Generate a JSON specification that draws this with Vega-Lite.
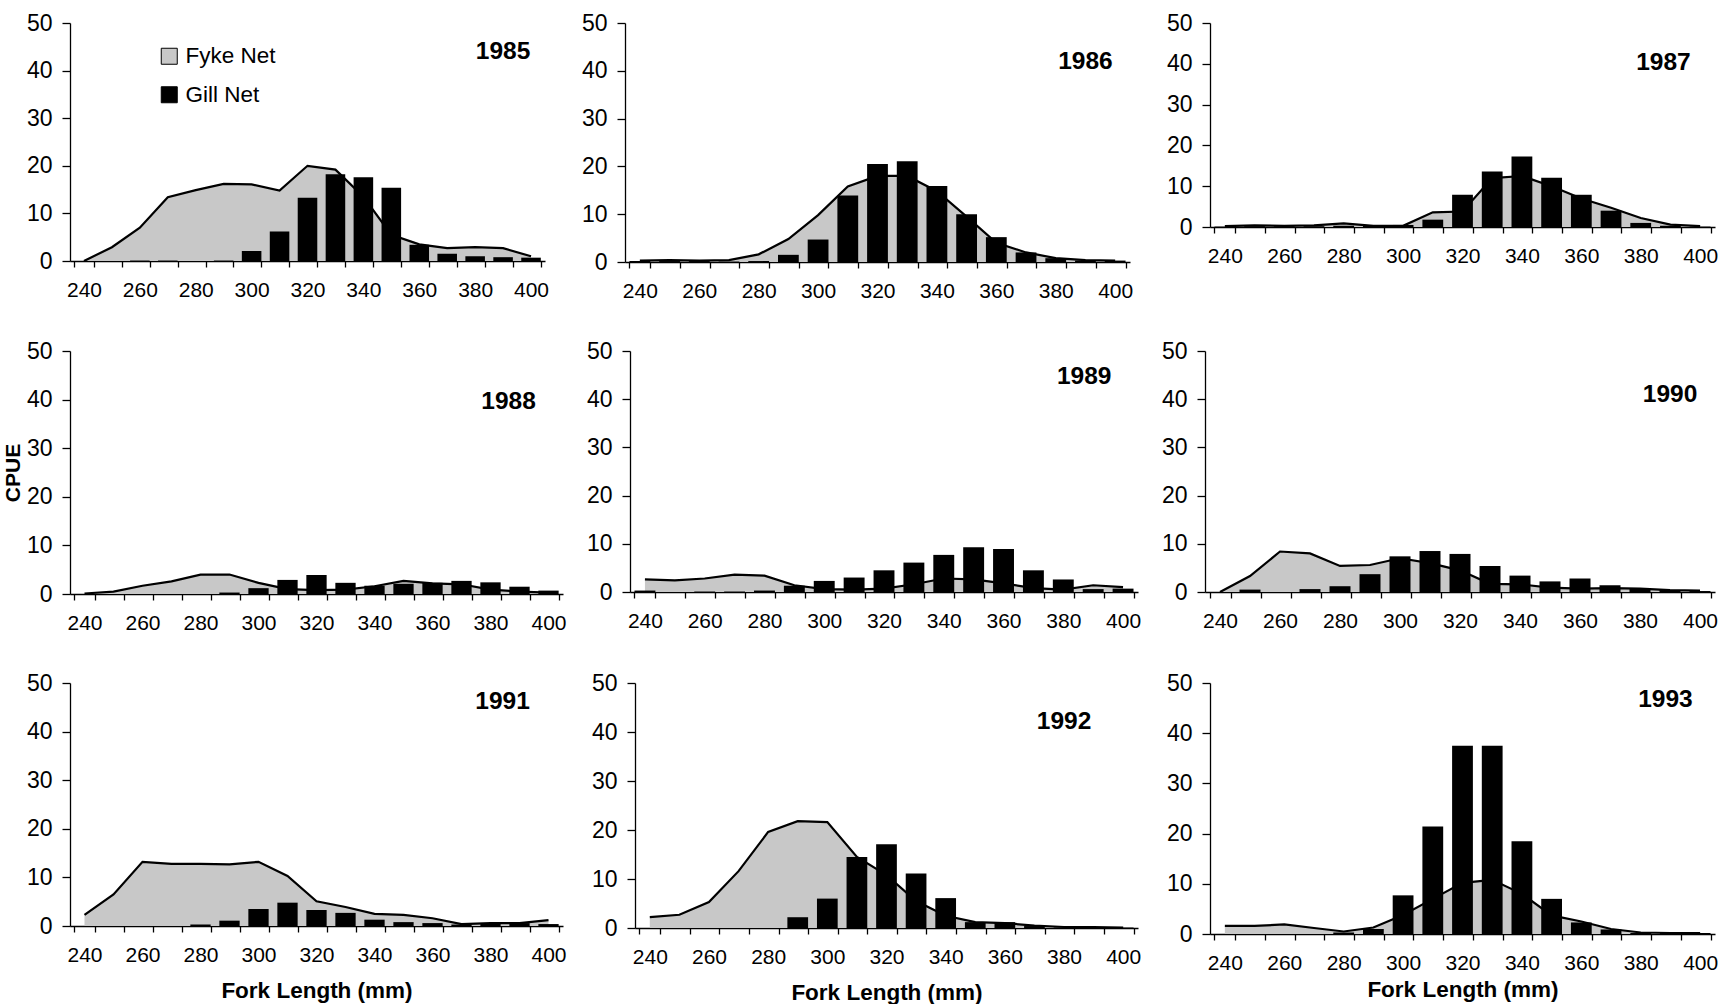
{
"$schema": "https://vega.github.io/schema/vega-lite/v6.json",
"padding": {"left": 2, "top": 12, "right": 2, "bottom": 0},
"background": "white",
"config": {
  "font": "Liberation Sans",
  "view": {"stroke": null},
  "axis": {"grid": false, "domainColor": "#000", "tickColor": "#000", "labelColor": "#000", "titleColor": "#000", "labelFont": "Liberation Sans", "titleFont": "Liberation Sans", "domainWidth": 1.3, "tickWidth": 1.3},
  "axisX": {"labelFontSize": 21, "tickSize": 6, "labelPadding": 12.5, "labelAngle": 0, "tickBand": "extent", "titleFontSize": 22.5, "titleFontWeight": "bold", "titlePadding": 14},
  "axisY": {"labelFontSize": 23, "tickSize": 8, "labelPadding": 10, "titleFontSize": 21, "titleFontWeight": "bold", "titlePadding": 3},
  "text": {"font": "Liberation Sans"}
},
"data": {"name": "cpue"},
"datasets": {"cpue": [
{"yr":1985,"L":240,"f":0,"g":0},{"yr":1985,"L":250,"f":2.9,"g":0},{"yr":1985,"L":260,"f":7.0,"g":0.1},{"yr":1985,"L":270,"f":13.4,"g":0.1},{"yr":1985,"L":280,"f":14.9,"g":0},{"yr":1985,"L":290,"f":16.2,"g":0.1},{"yr":1985,"L":300,"f":16.1,"g":2.1},{"yr":1985,"L":310,"f":14.8,"g":6.2},{"yr":1985,"L":320,"f":20.0,"g":13.3},{"yr":1985,"L":330,"f":19.2,"g":18.2},{"yr":1985,"L":340,"f":13.5,"g":17.6},{"yr":1985,"L":350,"f":5.5,"g":15.4},{"yr":1985,"L":360,"f":3.5,"g":3.4},{"yr":1985,"L":370,"f":2.7,"g":1.5},{"yr":1985,"L":380,"f":2.9,"g":1.0},{"yr":1985,"L":390,"f":2.7,"g":0.8},{"yr":1985,"L":400,"f":1.0,"g":0.7},
{"yr":1986,"L":240,"f":0.3,"g":0.2},{"yr":1986,"L":250,"f":0.4,"g":0.2},{"yr":1986,"L":260,"f":0.3,"g":0.2},{"yr":1986,"L":270,"f":0.4,"g":0.1},{"yr":1986,"L":280,"f":1.6,"g":0.2},{"yr":1986,"L":290,"f":4.8,"g":1.5},{"yr":1986,"L":300,"f":9.8,"g":4.7},{"yr":1986,"L":310,"f":15.8,"g":13.9},{"yr":1986,"L":320,"f":18.0,"g":20.5},{"yr":1986,"L":330,"f":18.0,"g":21.1},{"yr":1986,"L":340,"f":14.8,"g":15.9},{"yr":1986,"L":350,"f":9.5,"g":10.0},{"yr":1986,"L":360,"f":4.0,"g":5.2},{"yr":1986,"L":370,"f":2.0,"g":2.0},{"yr":1986,"L":380,"f":0.8,"g":0.8},{"yr":1986,"L":390,"f":0.4,"g":0.3},{"yr":1986,"L":400,"f":0.3,"g":0.3},
{"yr":1987,"L":240,"f":0.2,"g":0.1},{"yr":1987,"L":250,"f":0.4,"g":0.2},{"yr":1987,"L":260,"f":0.3,"g":0.2},{"yr":1987,"L":270,"f":0.4,"g":0.2},{"yr":1987,"L":280,"f":0.9,"g":0.3},{"yr":1987,"L":290,"f":0.3,"g":0.3},{"yr":1987,"L":300,"f":0.3,"g":0.5},{"yr":1987,"L":310,"f":3.6,"g":1.8},{"yr":1987,"L":320,"f":3.8,"g":7.9},{"yr":1987,"L":330,"f":12.0,"g":13.6},{"yr":1987,"L":340,"f":12.5,"g":17.3},{"yr":1987,"L":350,"f":10.0,"g":12.1},{"yr":1987,"L":360,"f":7.0,"g":7.9},{"yr":1987,"L":370,"f":4.7,"g":4.0},{"yr":1987,"L":380,"f":2.2,"g":1.0},{"yr":1987,"L":390,"f":0.6,"g":0.3},{"yr":1987,"L":400,"f":0.2,"g":0.1},
{"yr":1988,"L":240,"f":0.1,"g":0},{"yr":1988,"L":250,"f":0.5,"g":0},{"yr":1988,"L":260,"f":1.7,"g":0},{"yr":1988,"L":270,"f":2.6,"g":0},{"yr":1988,"L":280,"f":4.0,"g":0},{"yr":1988,"L":290,"f":4.0,"g":0.3},{"yr":1988,"L":300,"f":2.3,"g":1.2},{"yr":1988,"L":310,"f":1.0,"g":2.9},{"yr":1988,"L":320,"f":0.8,"g":3.9},{"yr":1988,"L":330,"f":0.9,"g":2.3},{"yr":1988,"L":340,"f":1.6,"g":1.7},{"yr":1988,"L":350,"f":2.7,"g":2.1},{"yr":1988,"L":360,"f":2.2,"g":2.3},{"yr":1988,"L":370,"f":2.0,"g":2.7},{"yr":1988,"L":380,"f":0.9,"g":2.4},{"yr":1988,"L":390,"f":0.5,"g":1.5},{"yr":1988,"L":400,"f":0.3,"g":0.7},
{"yr":1989,"L":240,"f":2.6,"g":0.3},{"yr":1989,"L":250,"f":2.4,"g":0},{"yr":1989,"L":260,"f":2.8,"g":0.1},{"yr":1989,"L":270,"f":3.6,"g":0.1},{"yr":1989,"L":280,"f":3.4,"g":0.3},{"yr":1989,"L":290,"f":1.4,"g":1.3},{"yr":1989,"L":300,"f":0.6,"g":2.3},{"yr":1989,"L":310,"f":0.5,"g":3.0},{"yr":1989,"L":320,"f":0.7,"g":4.5},{"yr":1989,"L":330,"f":1.6,"g":6.1},{"yr":1989,"L":340,"f":2.8,"g":7.7},{"yr":1989,"L":350,"f":2.6,"g":9.3},{"yr":1989,"L":360,"f":1.8,"g":8.9},{"yr":1989,"L":370,"f":0.8,"g":4.5},{"yr":1989,"L":380,"f":0.5,"g":2.6},{"yr":1989,"L":390,"f":1.4,"g":0.6},{"yr":1989,"L":400,"f":1.0,"g":0.7},
{"yr":1990,"L":240,"f":0,"g":0},{"yr":1990,"L":250,"f":3.3,"g":0.5},{"yr":1990,"L":260,"f":8.4,"g":0},{"yr":1990,"L":270,"f":8.0,"g":0.6},{"yr":1990,"L":280,"f":5.4,"g":1.2},{"yr":1990,"L":290,"f":5.6,"g":3.7},{"yr":1990,"L":300,"f":7.0,"g":7.4},{"yr":1990,"L":310,"f":6.0,"g":8.5},{"yr":1990,"L":320,"f":4.5,"g":7.9},{"yr":1990,"L":330,"f":1.7,"g":5.4},{"yr":1990,"L":340,"f":1.6,"g":3.4},{"yr":1990,"L":350,"f":0.9,"g":2.2},{"yr":1990,"L":360,"f":0.7,"g":2.8},{"yr":1990,"L":370,"f":0.8,"g":1.4},{"yr":1990,"L":380,"f":0.7,"g":0.8},{"yr":1990,"L":390,"f":0.4,"g":0.4},{"yr":1990,"L":400,"f":0.3,"g":0.2},
{"yr":1991,"L":240,"f":2.3,"g":0},{"yr":1991,"L":250,"f":6.5,"g":0},{"yr":1991,"L":260,"f":13.2,"g":0},{"yr":1991,"L":270,"f":12.8,"g":0},{"yr":1991,"L":280,"f":12.8,"g":0.3},{"yr":1991,"L":290,"f":12.7,"g":1.1},{"yr":1991,"L":300,"f":13.2,"g":3.5},{"yr":1991,"L":310,"f":10.3,"g":4.8},{"yr":1991,"L":320,"f":5.1,"g":3.3},{"yr":1991,"L":330,"f":3.9,"g":2.7},{"yr":1991,"L":340,"f":2.5,"g":1.3},{"yr":1991,"L":350,"f":2.3,"g":0.8},{"yr":1991,"L":360,"f":1.6,"g":0.6},{"yr":1991,"L":370,"f":0.4,"g":0.3},{"yr":1991,"L":380,"f":0.6,"g":0.6},{"yr":1991,"L":390,"f":0.6,"g":0.6},{"yr":1991,"L":400,"f":1.2,"g":0.4},
{"yr":1992,"L":240,"f":2.2,"g":0},{"yr":1992,"L":250,"f":2.7,"g":0},{"yr":1992,"L":260,"f":5.3,"g":0},{"yr":1992,"L":270,"f":11.6,"g":0},{"yr":1992,"L":280,"f":19.6,"g":0},{"yr":1992,"L":290,"f":21.8,"g":2.2},{"yr":1992,"L":300,"f":21.6,"g":6.0},{"yr":1992,"L":310,"f":14.5,"g":14.5},{"yr":1992,"L":320,"f":10.8,"g":17.1},{"yr":1992,"L":330,"f":5.5,"g":11.1},{"yr":1992,"L":340,"f":2.5,"g":6.1},{"yr":1992,"L":350,"f":1.2,"g":1.2},{"yr":1992,"L":360,"f":1.0,"g":1.2},{"yr":1992,"L":370,"f":0.5,"g":0.4},{"yr":1992,"L":380,"f":0.2,"g":0.1},{"yr":1992,"L":390,"f":0.2,"g":0.2},{"yr":1992,"L":400,"f":0.1,"g":0.1},
{"yr":1993,"L":240,"f":1.6,"g":0},{"yr":1993,"L":250,"f":1.6,"g":0},{"yr":1993,"L":260,"f":1.9,"g":0},{"yr":1993,"L":270,"f":1.2,"g":0},{"yr":1993,"L":280,"f":0.5,"g":0.3},{"yr":1993,"L":290,"f":1.3,"g":1.0},{"yr":1993,"L":300,"f":3.8,"g":7.7},{"yr":1993,"L":310,"f":7.0,"g":21.4},{"yr":1993,"L":320,"f":10.2,"g":37.5},{"yr":1993,"L":330,"f":10.8,"g":37.5},{"yr":1993,"L":340,"f":8.0,"g":18.5},{"yr":1993,"L":350,"f":3.7,"g":7.0},{"yr":1993,"L":360,"f":2.5,"g":2.3},{"yr":1993,"L":370,"f":1.0,"g":0.9},{"yr":1993,"L":380,"f":0.3,"g":0.2},{"yr":1993,"L":390,"f":0.2,"g":0.2},{"yr":1993,"L":400,"f":0.2,"g":0.2}
]},
"spacing": 38,
"vconcat": [
{"hconcat": [
 {"width": 475, "height": 238, "layer": [
  {"transform": [{"filter": "datum.yr == 1985"}], "mark": {"type": "area", "color": "#c8c8c8"}, "encoding": {
    "x": {"field": "L", "type": "ordinal", "bandPosition": 0.5, "scale": {"domain": [240,250,260,270,280,290,300,310,320,330,340,350,360,370,380,390,400], "paddingInner": 0.3, "paddingOuter": 0.15}, "axis": {"labelExpr": "datum.value % 20 == 0 ? datum.label : ''", "title": null}},
    "y": {"field": "f", "type": "quantitative", "scale": {"domain": [0, 50], "nice": false}, "axis": {"values": [0,10,20,30,40,50], "title": null}},
    "color": {"datum": "Fyke Net", "scale": {"domain": ["Fyke Net", "Gill Net"], "range": ["#c8c8c8", "#000000"]}, "legend": {"orient": "none", "legendX": 88, "legendY": 22, "title": null, "symbolType": "square", "symbolSize": 256, "labelFontSize": 22.5, "labelFont": "Liberation Sans", "labelColor": "#000", "rowPadding": 15.5, "labelOffset": 5, "symbolStrokeColor": "#000", "symbolStrokeWidth": 1, "symbolOpacity": 1, "padding": 0}}}},
  {"transform": [{"filter": "datum.yr == 1985"}], "mark": {"type": "line", "color": "#000", "strokeWidth": 2.2}, "encoding": {"x": {"field": "L", "type": "ordinal", "bandPosition": 0.5}, "y": {"field": "f", "type": "quantitative", "axis": {"title": null}}}},
  {"transform": [{"filter": "datum.yr == 1985"}], "mark": {"type": "bar", "color": "#000"}, "encoding": {"x": {"field": "L", "type": "ordinal"}, "y": {"field": "g", "type": "quantitative", "axis": {"title": null}}, "color": {"datum": "Gill Net"}}},
  {"data": {"values": [{"t": "1985"}]}, "mark": {"type": "text", "fontSize": 24.5, "fontWeight": "bold", "color": "#000"}, "encoding": {"x": {"datum": 390, "type": "ordinal", "bandPosition": 0.5}, "y": {"datum": 43.9, "type": "quantitative"}, "text": {"field": "t"}}}
 ]},
 {"width": 505, "height": 239, "layer": [
  {"transform": [{"filter": "datum.yr == 1986"}], "mark": {"type": "area", "color": "#c8c8c8"}, "encoding": {
    "x": {"field": "L", "type": "ordinal", "bandPosition": 0.5, "scale": {"domain": [240,250,260,270,280,290,300,310,320,330,340,350,360,370,380,390,400], "paddingInner": 0.3, "paddingOuter": 0.15}, "axis": {"labelExpr": "datum.value % 20 == 0 ? datum.label : ''", "title": null}},
    "y": {"field": "f", "type": "quantitative", "scale": {"domain": [0, 50], "nice": false}, "axis": {"values": [0,10,20,30,40,50], "title": null}}}},
  {"transform": [{"filter": "datum.yr == 1986"}], "mark": {"type": "line", "color": "#000", "strokeWidth": 2.2}, "encoding": {"x": {"field": "L", "type": "ordinal", "bandPosition": 0.5}, "y": {"field": "f", "type": "quantitative", "axis": {"title": null}}}},
  {"transform": [{"filter": "datum.yr == 1986"}], "mark": {"type": "bar", "color": "#000"}, "encoding": {"x": {"field": "L", "type": "ordinal"}, "y": {"field": "g", "type": "quantitative", "axis": {"title": null}}}},
  {"data": {"values": [{"t": "1986"}]}, "mark": {"type": "text", "fontSize": 24.5, "fontWeight": "bold", "color": "#000"}, "encoding": {"x": {"datum": 390, "type": "ordinal", "bandPosition": 0.5}, "y": {"datum": 41.8, "type": "quantitative"}, "text": {"field": "t"}}}
 ]},
 {"width": 505, "height": 204, "layer": [
  {"transform": [{"filter": "datum.yr == 1987"}], "mark": {"type": "area", "color": "#c8c8c8"}, "encoding": {
    "x": {"field": "L", "type": "ordinal", "bandPosition": 0.5, "scale": {"domain": [240,250,260,270,280,290,300,310,320,330,340,350,360,370,380,390,400], "paddingInner": 0.3, "paddingOuter": 0.15}, "axis": {"labelExpr": "datum.value % 20 == 0 ? datum.label : ''", "title": null}},
    "y": {"field": "f", "type": "quantitative", "scale": {"domain": [0, 50], "nice": false}, "axis": {"values": [0,10,20,30,40,50], "title": null}}}},
  {"transform": [{"filter": "datum.yr == 1987"}], "mark": {"type": "line", "color": "#000", "strokeWidth": 2.2}, "encoding": {"x": {"field": "L", "type": "ordinal", "bandPosition": 0.5}, "y": {"field": "f", "type": "quantitative", "axis": {"title": null}}}},
  {"transform": [{"filter": "datum.yr == 1987"}], "mark": {"type": "bar", "color": "#000"}, "encoding": {"x": {"field": "L", "type": "ordinal"}, "y": {"field": "g", "type": "quantitative", "axis": {"title": null}}}},
  {"data": {"values": [{"t": "1987"}]}, "mark": {"type": "text", "fontSize": 24.5, "fontWeight": "bold", "color": "#000", "dx": -7}, "encoding": {"x": {"datum": 390, "type": "ordinal", "bandPosition": 0.5}, "y": {"datum": 40.2, "type": "quantitative"}, "text": {"field": "t"}}}
 ]}
], "spacing": 80, "bounds": "flush"},
{"hconcat": [
 {"width": 493, "height": 243, "layer": [
  {"transform": [{"filter": "datum.yr == 1988"}], "mark": {"type": "area", "color": "#c8c8c8"}, "encoding": {
    "x": {"field": "L", "type": "ordinal", "bandPosition": 0.5, "scale": {"domain": [240,250,260,270,280,290,300,310,320,330,340,350,360,370,380,390,400], "paddingInner": 0.3, "paddingOuter": 0.15}, "axis": {"labelExpr": "datum.value % 20 == 0 ? datum.label : ''", "title": null}},
    "y": {"field": "f", "type": "quantitative", "scale": {"domain": [0, 50], "nice": false}, "axis": {"values": [0,10,20,30,40,50], "title": "CPUE"}}}},
  {"transform": [{"filter": "datum.yr == 1988"}], "mark": {"type": "line", "color": "#000", "strokeWidth": 2.2}, "encoding": {"x": {"field": "L", "type": "ordinal", "bandPosition": 0.5}, "y": {"field": "f", "type": "quantitative", "axis": {"title": "CPUE"}}}},
  {"transform": [{"filter": "datum.yr == 1988"}], "mark": {"type": "bar", "color": "#000"}, "encoding": {"x": {"field": "L", "type": "ordinal"}, "y": {"field": "g", "type": "quantitative", "axis": {"title": "CPUE"}}}},
  {"data": {"values": [{"t": "1988"}]}, "mark": {"type": "text", "fontSize": 24.5, "fontWeight": "bold", "color": "#000", "dx": -11}, "encoding": {"x": {"datum": 390, "type": "ordinal", "bandPosition": 0.5}, "y": {"datum": 39.5, "type": "quantitative"}, "text": {"field": "t"}}}
 ]},
 {"width": 508, "height": 241, "layer": [
  {"transform": [{"filter": "datum.yr == 1989"}], "mark": {"type": "area", "color": "#c8c8c8"}, "encoding": {
    "x": {"field": "L", "type": "ordinal", "bandPosition": 0.5, "scale": {"domain": [240,250,260,270,280,290,300,310,320,330,340,350,360,370,380,390,400], "paddingInner": 0.3, "paddingOuter": 0.15}, "axis": {"labelExpr": "datum.value % 20 == 0 ? datum.label : ''", "title": null}},
    "y": {"field": "f", "type": "quantitative", "scale": {"domain": [0, 50], "nice": false}, "axis": {"values": [0,10,20,30,40,50], "title": null}}}},
  {"transform": [{"filter": "datum.yr == 1989"}], "mark": {"type": "line", "color": "#000", "strokeWidth": 2.2}, "encoding": {"x": {"field": "L", "type": "ordinal", "bandPosition": 0.5}, "y": {"field": "f", "type": "quantitative", "axis": {"title": null}}}},
  {"transform": [{"filter": "datum.yr == 1989"}], "mark": {"type": "bar", "color": "#000"}, "encoding": {"x": {"field": "L", "type": "ordinal"}, "y": {"field": "g", "type": "quantitative", "axis": {"title": null}}}},
  {"data": {"values": [{"t": "1989"}]}, "mark": {"type": "text", "fontSize": 24.5, "fontWeight": "bold", "color": "#000", "dx": -9}, "encoding": {"x": {"datum": 390, "type": "ordinal", "bandPosition": 0.5}, "y": {"datum": 44.7, "type": "quantitative"}, "text": {"field": "t"}}}
 ]},
 {"width": 510, "height": 241, "layer": [
  {"transform": [{"filter": "datum.yr == 1990"}], "mark": {"type": "area", "color": "#c8c8c8"}, "encoding": {
    "x": {"field": "L", "type": "ordinal", "bandPosition": 0.5, "scale": {"domain": [240,250,260,270,280,290,300,310,320,330,340,350,360,370,380,390,400], "paddingInner": 0.3, "paddingOuter": 0.15}, "axis": {"labelExpr": "datum.value % 20 == 0 ? datum.label : ''", "title": null}},
    "y": {"field": "f", "type": "quantitative", "scale": {"domain": [0, 50], "nice": false}, "axis": {"values": [0,10,20,30,40,50], "title": null}}}},
  {"transform": [{"filter": "datum.yr == 1990"}], "mark": {"type": "line", "color": "#000", "strokeWidth": 2.2}, "encoding": {"x": {"field": "L", "type": "ordinal", "bandPosition": 0.5}, "y": {"field": "f", "type": "quantitative", "axis": {"title": null}}}},
  {"transform": [{"filter": "datum.yr == 1990"}], "mark": {"type": "bar", "color": "#000"}, "encoding": {"x": {"field": "L", "type": "ordinal"}, "y": {"field": "g", "type": "quantitative", "axis": {"title": null}}}},
  {"data": {"values": [{"t": "1990"}]}, "mark": {"type": "text", "fontSize": 24.5, "fontWeight": "bold", "color": "#000"}, "encoding": {"x": {"datum": 390, "type": "ordinal", "bandPosition": 0.5}, "y": {"datum": 40.9, "type": "quantitative"}, "text": {"field": "t"}}}
 ]}
], "spacing": 67, "bounds": "flush"},
{"hconcat": [
 {"width": 493, "height": 243, "layer": [
  {"transform": [{"filter": "datum.yr == 1991"}], "mark": {"type": "area", "color": "#c8c8c8"}, "encoding": {
    "x": {"field": "L", "type": "ordinal", "bandPosition": 0.5, "scale": {"domain": [240,250,260,270,280,290,300,310,320,330,340,350,360,370,380,390,400], "paddingInner": 0.3, "paddingOuter": 0.15}, "axis": {"labelExpr": "datum.value % 20 == 0 ? datum.label : ''", "title": "Fork Length (mm)"}},
    "y": {"field": "f", "type": "quantitative", "scale": {"domain": [0, 50], "nice": false}, "axis": {"values": [0,10,20,30,40,50], "title": null}}}},
  {"transform": [{"filter": "datum.yr == 1991"}], "mark": {"type": "line", "color": "#000", "strokeWidth": 2.2}, "encoding": {"x": {"field": "L", "type": "ordinal", "bandPosition": 0.5, "axis": {"title": "Fork Length (mm)"}}, "y": {"field": "f", "type": "quantitative", "axis": {"title": null}}}},
  {"transform": [{"filter": "datum.yr == 1991"}], "mark": {"type": "bar", "color": "#000"}, "encoding": {"x": {"field": "L", "type": "ordinal", "axis": {"title": "Fork Length (mm)"}}, "y": {"field": "g", "type": "quantitative", "axis": {"title": null}}}},
  {"data": {"values": [{"t": "1991"}]}, "mark": {"type": "text", "fontSize": 24.5, "fontWeight": "bold", "color": "#000", "dx": -17}, "encoding": {"x": {"datum": 390, "type": "ordinal", "bandPosition": 0.5}, "y": {"datum": 46.1, "type": "quantitative"}, "text": {"field": "t"}}}
 ]},
 {"width": 503, "height": 245, "layer": [
  {"transform": [{"filter": "datum.yr == 1992"}], "mark": {"type": "area", "color": "#c8c8c8"}, "encoding": {
    "x": {"field": "L", "type": "ordinal", "bandPosition": 0.5, "scale": {"domain": [240,250,260,270,280,290,300,310,320,330,340,350,360,370,380,390,400], "paddingInner": 0.3, "paddingOuter": 0.15}, "axis": {"labelExpr": "datum.value % 20 == 0 ? datum.label : ''", "title": "Fork Length (mm)"}},
    "y": {"field": "f", "type": "quantitative", "scale": {"domain": [0, 50], "nice": false}, "axis": {"values": [0,10,20,30,40,50], "title": null}}}},
  {"transform": [{"filter": "datum.yr == 1992"}], "mark": {"type": "line", "color": "#000", "strokeWidth": 2.2}, "encoding": {"x": {"field": "L", "type": "ordinal", "bandPosition": 0.5, "axis": {"title": "Fork Length (mm)"}}, "y": {"field": "f", "type": "quantitative", "axis": {"title": null}}}},
  {"transform": [{"filter": "datum.yr == 1992"}], "mark": {"type": "bar", "color": "#000"}, "encoding": {"x": {"field": "L", "type": "ordinal", "axis": {"title": "Fork Length (mm)"}}, "y": {"field": "g", "type": "quantitative", "axis": {"title": null}}}},
  {"data": {"values": [{"t": "1992"}]}, "mark": {"type": "text", "fontSize": 24.5, "fontWeight": "bold", "color": "#000"}, "encoding": {"x": {"datum": 380, "type": "ordinal", "bandPosition": 0.5}, "y": {"datum": 42.0, "type": "quantitative"}, "text": {"field": "t"}}}
 ]},
 {"width": 505, "height": 251, "layer": [
  {"transform": [{"filter": "datum.yr == 1993"}], "mark": {"type": "area", "color": "#c8c8c8"}, "encoding": {
    "x": {"field": "L", "type": "ordinal", "bandPosition": 0.5, "scale": {"domain": [240,250,260,270,280,290,300,310,320,330,340,350,360,370,380,390,400], "paddingInner": 0.3, "paddingOuter": 0.15}, "axis": {"labelExpr": "datum.value % 20 == 0 ? datum.label : ''", "title": "Fork Length (mm)", "titlePadding": 5}},
    "y": {"field": "f", "type": "quantitative", "scale": {"domain": [0, 50], "nice": false}, "axis": {"values": [0,10,20,30,40,50], "title": null}}}},
  {"transform": [{"filter": "datum.yr == 1993"}], "mark": {"type": "line", "color": "#000", "strokeWidth": 2.2}, "encoding": {"x": {"field": "L", "type": "ordinal", "bandPosition": 0.5, "axis": {"title": "Fork Length (mm)", "titlePadding": 5}}, "y": {"field": "f", "type": "quantitative", "axis": {"title": null}}}},
  {"transform": [{"filter": "datum.yr == 1993"}], "mark": {"type": "bar", "color": "#000"}, "encoding": {"x": {"field": "L", "type": "ordinal", "axis": {"title": "Fork Length (mm)", "titlePadding": 5}}, "y": {"field": "g", "type": "quantitative", "axis": {"title": null}}}},
  {"data": {"values": [{"t": "1993"}]}, "mark": {"type": "text", "fontSize": 24.5, "fontWeight": "bold", "color": "#000", "dx": -5}, "encoding": {"x": {"datum": 390, "type": "ordinal", "bandPosition": 0.5}, "y": {"datum": 46.6, "type": "quantitative"}, "text": {"field": "t"}}}
 ]}
], "spacing": 72, "bounds": "flush"}
]
}
